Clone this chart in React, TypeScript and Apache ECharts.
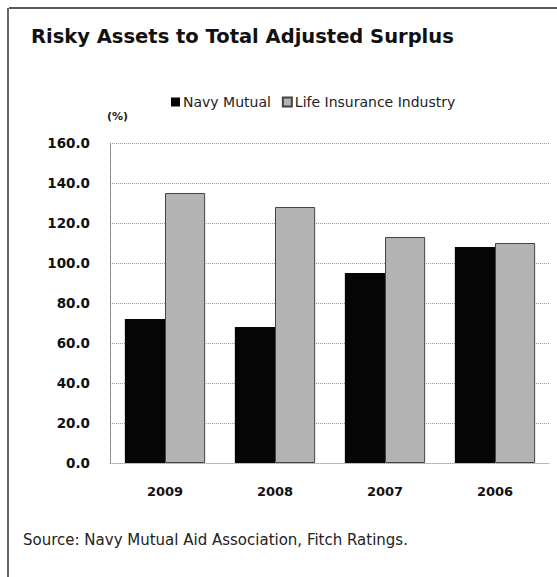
import React, { useEffect, useRef } from "react";
import * as echarts from "echarts";

const categories = ["2009", "2008", "2007", "2006"];
const navyMutual = [72, 68, 95, 108];
const lifeIndustry = [135, 128, 113, 110];
const seriesNames = ["Navy Mutual", "Life Insurance Industry"];

export default function App() {
  const ref = useRef<HTMLDivElement>(null);
  useEffect(() => {
    if (!ref.current) return;
    const chart = echarts.init(ref.current, undefined, { renderer: "svg" });
    const font = "DejaVu Sans";
    chart.setOption({
      animation: false,
      backgroundColor: "#ffffff",
      textStyle: { fontFamily: font },
      title: {
        text: "Risky Assets to Total Adjusted Surplus",
        left: 26,
        top: 21,
        textStyle: { fontFamily: font, fontSize: 19.5, fontWeight: "bold", color: "#111" },
      },
      legend: {
        left: 166,
        top: 90,
        itemWidth: 9,
        itemHeight: 9,
        itemGap: 11,
        icon: "rect",
        textStyle: { fontFamily: font, fontSize: 14, color: "#222", padding: [0, 0, 0, -2] },
        data: seriesNames,
      },
      grid: { left: 110, right: 7, top: 143, bottom: 114 },
      xAxis: {
        type: "category",
        data: categories,
        axisLine: { show: true, lineStyle: { color: "#aaa", type: "dotted" } },
        axisTick: { show: false },
        axisLabel: { margin: 22, fontFamily: font, fontSize: 13, fontWeight: "bold", color: "#111" },
      },
      yAxis: {
        type: "value",
        min: 0,
        max: 160,
        interval: 20,
        name: "(%)",
        nameLocation: "end",
        nameGap: 21,
        nameTextStyle: { fontFamily: font, fontSize: 11, fontWeight: "bold", color: "#222", align: "left", padding: [0, 0, 0, -3] },
        axisLine: { show: true, lineStyle: { color: "#777", type: "dotted" } },
        axisTick: { show: false },
        axisLabel: {
          margin: 20,
          fontFamily: font,
          fontSize: 13.5,
          fontWeight: "bold",
          color: "#111",
          formatter: (v: number) => v.toFixed(1),
        },
        splitLine: { show: true, lineStyle: { color: "#999", type: "dotted", width: 1 } },
      },
      series: [
        {
          name: seriesNames[0],
          type: "bar",
          data: navyMutual,
          barGap: "0%",
          barCategoryGap: "27%",
          itemStyle: { color: "#050505" },
        },
        {
          name: seriesNames[1],
          type: "bar",
          data: lifeIndustry,
          itemStyle: { color: "#b3b3b3", borderColor: "#444", borderWidth: 1 },
        },
      ],
      graphic: [
        {
          type: "line",
          shape: { x1: 9, y1: 8, x2: 557, y2: 8 },
          style: { stroke: "#222", lineWidth: 1.5 },
        },
        {
          type: "line",
          shape: { x1: 8, y1: 8, x2: 8, y2: 577 },
          style: { stroke: "#333", lineWidth: 1.5 },
        },
        {
          type: "text",
          left: 23,
          top: 532,
          style: {
            text: "Source: Navy Mutual Aid Association, Fitch Ratings.",
            fontFamily: font,
            fontSize: 15,
            fill: "#222",
          },
        },
      ],
    });
    return () => chart.dispose();
  }, []);
  return <div ref={ref} style={{ width: 557, height: 577, position: "absolute", left: 0, top: 0 }} />;
}
